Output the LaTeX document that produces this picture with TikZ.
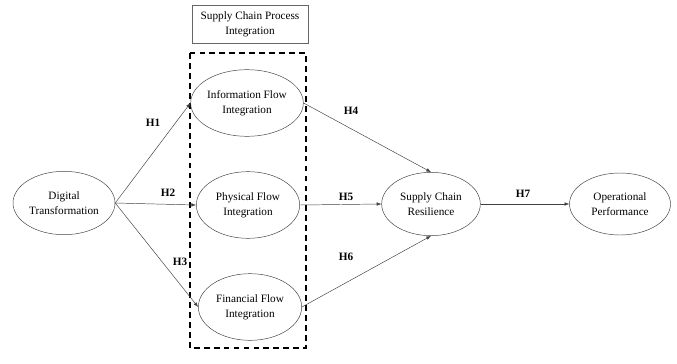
\documentclass[tikz,border=0pt]{standalone}
\usepackage{fontspec}
\setmainfont{Liberation Serif}
\usetikzlibrary{shapes.geometric,arrows.meta}

\tikzset{
  construct/.style={draw=black!75, ellipse, inner sep=0pt, minimum width=3.1cm, minimum height=2cm, align=center, font=\fontsize{9.6}{12.8}\selectfont},
  hyp/.style={font=\fontsize{9.6}{12}\selectfont\bfseries},
  path/.style={draw=black!75, -{Latex[length=4pt,width=3pt]}}
}

\begin{document}
\begin{tikzpicture}[x=0.03cm, y=-0.03cm]
		\useasboundingbox (0,0) rectangle (677,363);

		% Group box and frame
		\node[draw=black!60, minimum width=3.48cm, minimum height=1.14cm, align=center, font=\fontsize{9.6}{12.8}\selectfont] (group) at (250,24) {Supply Chain Process\\Integration};
		\draw[very thick, dash pattern=on 5pt off 3.5pt] (190,53) rectangle (306,348);

		% Constructs
		\node[construct, minimum width=3.06cm, minimum height=1.9cm] (dt) at (64,203) {Digital\\Transformation};
		\node[construct] (info) at (247,103) {Information Flow\\Integration};
		\node[construct] (phys) at (248,205) {Physical Flow\\Integration};
		\node[construct] (fin) at (250,307) {Financial Flow\\Integration};
		\node[construct, minimum width=2.96cm, minimum height=1.9cm] (scr) at (431,204) {Supply Chain\\Resilience};
		\node[construct, minimum width=3.03cm, minimum height=1.86cm] (op) at (620,204) {Operational\\Performance};

		% Paths
		\draw[path] (dt.east) -- (info.west);
		\draw[path] (dt.east) -- (phys.west);
		\draw[path] (dt.east) -- (fin.west);
		\draw[path] (info.east) -- (scr.north);
		\draw[path] (phys.east) -- (scr.west);
		\draw[path] (fin.east) -- (scr.south);
		\draw[path] (scr.east) -- (op.west);

		% Hypotheses
		\node[hyp] (h1) at (153,123) {H1};
		\node[hyp] (h2) at (168,193) {H2};
		\node[hyp] (h3) at (180,262) {H3};
		\node[hyp] (h4) at (351,111) {H4};
		\node[hyp] (h5) at (346,197) {H5};
		\node[hyp] (h6) at (346,257) {H6};
		\node[hyp] (h7) at (523,194) {H7};
\end{tikzpicture}
\end{document}
